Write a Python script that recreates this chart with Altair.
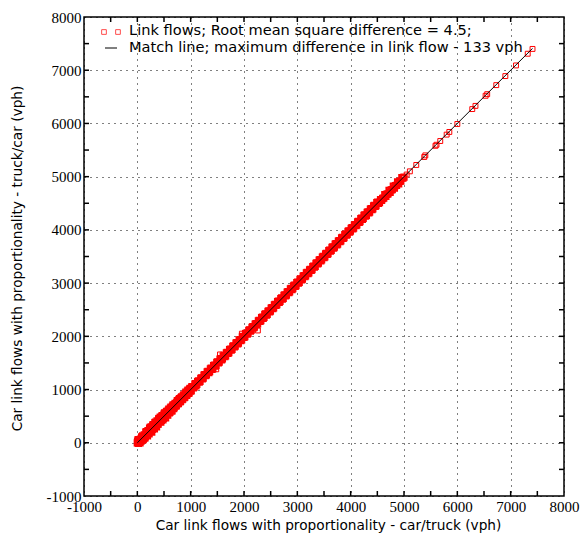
import altair as alt
import pandas as pd

# ---- data ----
band_x = [0, 5, 20, 30, 45, 60, 70, 90, 100, 115, 130, 150, 160, 180, 200, 210, 230, 250, 260, 280,
          300, 310, 330, 350, 370, 380, 400, 420, 430, 450, 470, 490, 500, 520, 540, 560, 580, 600,
          620, 640, 660, 680, 700, 720, 740, 760, 780, 800, 820, 840, 860, 880, 900, 920, 940, 960,
          980, 1000, 1020, 1050, 1080, 1100, 1130, 1160, 1190, 1220, 1250, 1280, 1310, 1340, 1370,
          1400, 1430, 1460, 1490, 1520, 1550, 1580, 1610, 1640, 1670, 1700, 1730, 1760, 1790, 1820,
          1850, 1880, 1910, 1940, 1970, 2000, 2030, 2060, 2090, 2120, 2150, 2180, 2210, 2240, 2270,
          2300, 2330, 2360, 2390, 2420, 2450, 2480, 2510, 2540, 2570, 2600, 2630, 2660, 2690, 2720,
          2750, 2780, 2810, 2840, 2870, 2900, 2930, 2960, 2990, 3020, 3050, 3080, 3110, 3140, 3170,
          3200, 3230, 3260, 3290, 3320, 3350, 3380, 3410, 3440, 3470, 3500, 3530, 3560, 3590, 3620,
          3650, 3680, 3710, 3740, 3770, 3800, 3830, 3860, 3890, 3920, 3950, 3980, 4010, 4040, 4070,
          4100, 4130, 4160, 4190, 4220, 4250, 4280, 4310, 4340, 4370, 4400, 4430, 4460, 4490, 4520,
          4560, 4600, 4640, 4680, 4720, 4760, 4800, 4840, 4880, 4920, 4960, 5000]
band_y = [0, 30, -10, 45, 20, 70, 30, 50, 130, 80, 150, 110, 200, 150, 230, 180, 270, 220, 300, 250,
          340, 290, 380, 320, 410, 350, 450, 400, 480, 420, 510, 460, 540, 500, 570, 530, 610, 560,
          650, 600, 690, 640, 720, 690, 760, 730, 810, 770, 850, 810, 880, 850, 930, 890, 970, 930,
          1010, 970, 1050, 1030, 1100, 1070, 1150, 1140, 1210, 1200, 1270, 1260, 1330, 1320, 1390,
          1380, 1450, 1440, 1510, 1500, 1570, 1560, 1630, 1620, 1690, 1680, 1750, 1740, 1810, 1800,
          1870, 1860, 1930, 1920, 1990, 1980, 2050, 2040, 2110, 2100, 2170, 2160, 2230, 2220, 2290,
          2280, 2350, 2340, 2410, 2400, 2470, 2460, 2530, 2520, 2590, 2580, 2650, 2640, 2710, 2700,
          2770, 2760, 2830, 2820, 2890, 2880, 2950, 2940, 3010, 3000, 3070, 3060, 3130, 3120, 3190,
          3180, 3250, 3240, 3310, 3300, 3370, 3360, 3430, 3420, 3490, 3480, 3550, 3540, 3610, 3600,
          3670, 3660, 3730, 3720, 3790, 3780, 3850, 3840, 3910, 3900, 3970, 3960, 4030, 4020, 4090,
          4080, 4150, 4140, 4210, 4200, 4270, 4260, 4330, 4320, 4390, 4380, 4450, 4440, 4510, 4500,
          4570, 4590, 4660, 4670, 4740, 4750, 4820, 4830, 4900, 4910, 4980, 4990]
# second, interleaved set of links in the dense band
band2_x = [15, 50, 80, 110, 140, 170, 190, 220, 240, 270, 290, 320, 340, 360, 390, 410, 440, 460,
           480, 510, 530, 550, 570, 590, 610, 630, 650, 670, 690, 710, 730, 750, 770, 790, 810, 830,
           850, 870, 890, 910, 930, 950, 970, 990, 1010, 1035, 1065, 1090, 1115, 1145, 1175, 1205,
           1235, 1265, 1295, 1325, 1355, 1385, 1415, 1445, 1475, 1505, 1535, 1565, 1595, 1625, 1655,
           1685, 1715, 1745, 1775, 1805, 1835, 1865, 1895, 1925, 1955, 1985, 2015, 2045, 2075, 2105,
           2135, 2165, 2195, 2225, 2255, 2285, 2315, 2345, 2375, 2405, 2435, 2465, 2495, 2525, 2555,
           2585, 2615, 2645, 2675, 2705, 2735, 2765, 2795, 2825, 2855, 2885, 2915, 2945, 2975, 3005,
           3035, 3065, 3095, 3125, 3155, 3185, 3215, 3245, 3275, 3305, 3335, 3365, 3395, 3425, 3455,
           3485, 3515, 3545, 3575, 3605, 3635, 3665, 3695, 3725, 3755, 3785, 3815, 3845, 3875, 3905,
           3935, 3965, 3995, 4025, 4055, 4085, 4115, 4145, 4175, 4205, 4235, 4265, 4295, 4325, 4355,
           4385, 4415, 4445, 4475, 4505, 4540, 4580, 4620, 4660, 4700, 4740, 4780, 4820, 4860, 4900,
           4940, 4980]
band2_y = [60, 0, 110, 60, 90, 210, 130, 170, 290, 200, 330, 260, 390, 300, 350, 460, 390, 500,
           430, 560, 470, 590, 520, 630, 570, 670, 600, 710, 660, 740, 700, 790, 740, 830, 780, 860,
           820, 900, 860, 950, 900, 990, 940, 1020, 980, 1055, 1045, 1110, 1100, 1165, 1155, 1220,
           1215, 1280, 1275, 1340, 1335, 1400, 1395, 1460, 1455, 1520, 1515, 1580, 1575, 1640, 1635,
           1700, 1695, 1760, 1755, 1820, 1815, 1880, 1875, 1940, 1935, 2000, 1995, 2060, 2055, 2120,
           2115, 2180, 2175, 2240, 2235, 2300, 2295, 2360, 2355, 2420, 2415, 2480, 2475, 2540, 2535,
           2600, 2595, 2660, 2655, 2720, 2715, 2780, 2775, 2840, 2835, 2900, 2895, 2960, 2955, 3020,
           3015, 3080, 3075, 3140, 3135, 3200, 3195, 3260, 3255, 3320, 3315, 3380, 3375, 3440, 3435,
           3500, 3495, 3560, 3555, 3620, 3615, 3680, 3675, 3740, 3735, 3800, 3795, 3860, 3855, 3920,
           3915, 3980, 3975, 4040, 4035, 4100, 4095, 4160, 4155, 4220, 4215, 4280, 4275, 4340, 4335,
           4400, 4395, 4460, 4455, 4520, 4515, 4555, 4595, 4630, 4675, 4705, 4755, 4785, 4835, 4865,
           4915, 4975]
outlier_x = [1550, 1960, 2260, 1480]
outlier_y = [1660, 2050, 2110, 1380]
sparse_x = [5050, 5110, 5230, 5380, 5400, 5590, 5610, 5680, 5800, 5850, 6000, 6280, 6340, 6530,
            6560, 6730, 6900, 7100, 7320, 7410]
sparse_y = [5040, 5100, 5220, 5370, 5400, 5580, 5600, 5670, 5790, 5840, 5990, 6270, 6330, 6520,
            6550, 6720, 6890, 7090, 7310, 7400]
match_x = [0, 7410]
match_y = [0, 7410]
tick_labels = [-1000, 0, 1000, 2000, 3000, 4000, 5000, 6000, 7000, 8000]
minor_ticks = [-500, 0, 500, 1000, 1500, 2000, 2500, 3000, 3500, 4000, 4500, 5000, 5500, 6000,
               6500, 7000, 7500]
legend_points = "Link flows; Root mean square difference = 4.5;"
legend_line = "Match line; maximum difference in link flow - 133 vph"
x_title = "Car link flows with proportionality - car/truck (vph)"
y_title = "Car link flows with proportionality - truck/car (vph)"

SERIF = "Times New Roman, Liberation Serif, serif"
SANS = "DejaVu Sans"
W, H = 480, 479
dense = pd.DataFrame({"x": band_x + band2_x, "y": band_y + band2_y})
sparse = pd.DataFrame({"x": outlier_x + sparse_x, "y": outlier_y + sparse_y})
line_df = pd.DataFrame({"x": match_x, "y": match_y})
tx = pd.DataFrame({"x": minor_ticks})
ty = pd.DataFrame({"y": minor_ticks})

xs = alt.Scale(domain=[-1000, 8000], nice=False, zero=False)
ys = alt.Scale(domain=[-1000, 8000], nice=False, zero=False)

common = dict(values=tick_labels, labelExpr="'' + datum.value",
              labelFont=SERIF, labelFontSize=15,
              labelColor="black", labelOverlap=False, labelFlush=False, labelBound=False,
              ticks=False, domain=False, grid=True, gridColor="black", gridDash=[1, 5],
              gridOpacity=1, gridWidth=1, titleFont=SANS, titleFontSize=13.7,
              titleFontWeight="normal", titleColor="black")
xaxis = alt.Axis(title=x_title, labelPadding=3, titleX=244, titleY=29,
                 titleBaseline="middle", titleAlign="center", **common)
yaxis = alt.Axis(title=y_title, labelPadding=3, titleX=-67, titleY=241, titleAngle=-90,
                 titleBaseline="middle", titleAlign="center", **common)

dense_pts = alt.Chart(dense).mark_point(shape="square", size=28, filled=False, color="#ff0000",
                                        strokeWidth=2, opacity=1).encode(
    x=alt.X("x:Q", scale=xs, axis=xaxis), y=alt.Y("y:Q", scale=ys, axis=yaxis))
sparse_pts = alt.Chart(sparse).mark_point(shape="square", size=24, filled=False, color="#ff0000",
                                          strokeWidth=1, opacity=1).encode(
    x=alt.X("x:Q", scale=xs, axis=xaxis), y=alt.Y("y:Q", scale=ys, axis=yaxis))
match = alt.Chart(line_df).mark_line(color="black", strokeWidth=1).encode(
    x=alt.X("x:Q", scale=xs, axis=xaxis), y=alt.Y("y:Q", scale=ys, axis=yaxis))

tick_len = 5
bot = alt.Chart(tx).mark_rule(color="black", strokeWidth=1.5).encode(
    x=alt.X("x:Q", scale=xs, axis=xaxis), y=alt.value(H), y2=alt.value(H - tick_len))
top = alt.Chart(tx).mark_rule(color="black", strokeWidth=1.5).encode(
    x=alt.X("x:Q", scale=xs, axis=xaxis), y=alt.value(0), y2=alt.value(tick_len))
left = alt.Chart(ty).mark_rule(color="black", strokeWidth=1.5).encode(
    y=alt.Y("y:Q", scale=ys, axis=yaxis), x=alt.value(0), x2=alt.value(tick_len))
right = alt.Chart(ty).mark_rule(color="black", strokeWidth=1.5).encode(
    y=alt.Y("y:Q", scale=ys, axis=yaxis), x=alt.value(W), x2=alt.value(W - tick_len))

# legend (inside, top-left)
leg_df = pd.DataFrame({"a": [0]})
leg_sq1 = alt.Chart(leg_df).mark_point(shape="square", size=22, filled=False, color="#ff0000",
                                       strokeWidth=1).encode(x=alt.value(20), y=alt.value(15))
leg_sq2 = alt.Chart(leg_df).mark_point(shape="square", size=22, filled=False, color="#ff0000",
                                       strokeWidth=1).encode(x=alt.value(34), y=alt.value(15))
leg_ln = alt.Chart(leg_df).mark_rule(color="black", strokeWidth=1).encode(
    x=alt.value(21), x2=alt.value(33), y=alt.value(31))
leg_t1 = alt.Chart(leg_df).mark_text(text=legend_points, font=SANS, fontSize=14.6,
                                     align="left", baseline="middle", color="black").encode(
    x=alt.value(45), y=alt.value(14))
leg_t2 = alt.Chart(leg_df).mark_text(text=legend_line, font=SANS, fontSize=14.6,
                                     align="left", baseline="middle", color="black").encode(
    x=alt.value(45), y=alt.value(31))

chart = alt.layer(dense_pts, sparse_pts, match, bot, top, left, right,
                  leg_sq1, leg_sq2, leg_ln, leg_t1, leg_t2).properties(
    width=W, height=H,
    autosize=alt.AutoSizeParams(type="none"),
    padding={"left": 84, "top": 17, "right": 17, "bottom": 44},
    background="white",
).configure_view(stroke="black", strokeWidth=1.5).configure_axis(
    labelFont=SERIF, labelFontSize=15)

chart.save("out.html", embed_options={"renderer": "svg", "actions": False})
